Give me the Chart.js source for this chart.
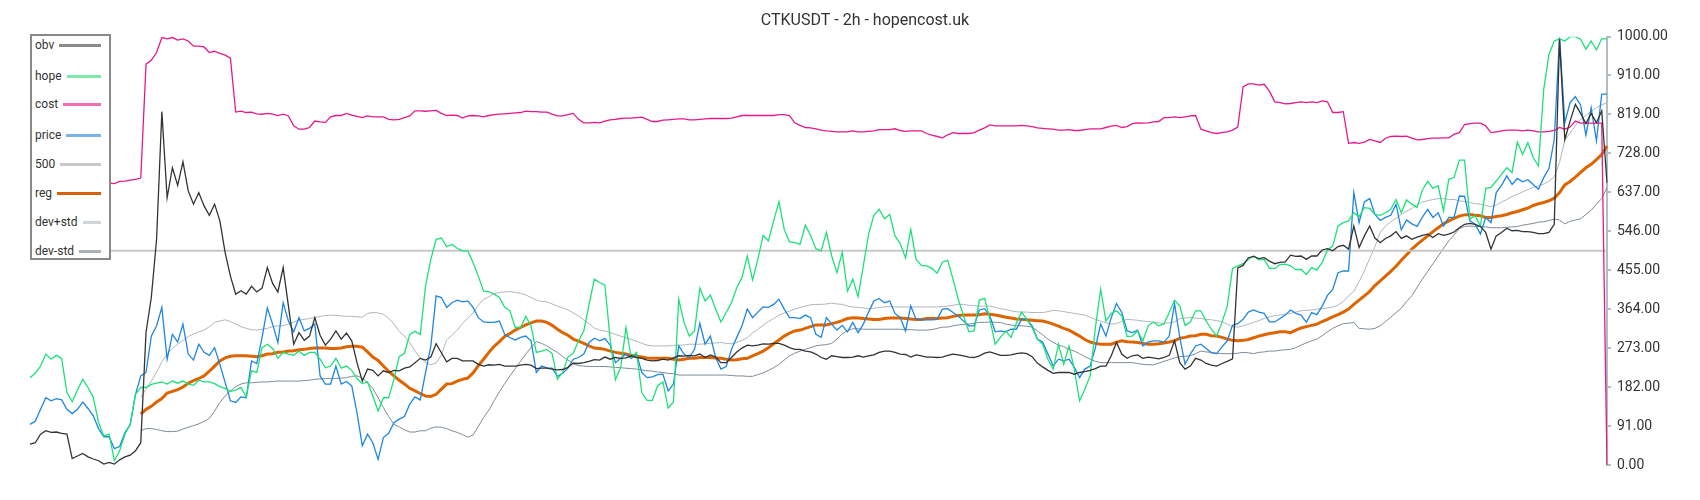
<!DOCTYPE html>
<html><head><meta charset="utf-8">
<script src="https://cdn.jsdelivr.net/npm/chart.js@4.4.1/dist/chart.umd.min.js"></script>
<style>
html,body{margin:0;padding:0;background:#fff;}
#wrap{position:relative;width:1700px;height:500px;}
#legend{position:absolute;left:30px;top:34px;width:77px;height:222px;border:2px solid #888;background:#fff;font-family:Roboto,sans-serif;font-size:12px;color:#333;}
.item{position:absolute;left:3px;right:8px;display:flex;align-items:center;height:16px;line-height:16px;white-space:nowrap;}
.item .sw{flex:1;height:3px;margin-left:5px;}
</style></head>
<body><div id="wrap"><canvas id="c" width="1700" height="500"></canvas><div id="legend"></div></div>
<script>
const yTicks = [0, 91, 182, 273, 364, 455, 546, 637, 728, 819, 910, 1000];
const seriesNames = ['obv','hope','cost','price','500','reg','dev+std','dev-std'];

const obv = [49,52,72,80,76,77,74,72,15,21,27,19,14,10,2,6,2,12,19,23,33,52,310,391,527,825,624,694,653,708,640,609,636,
605,583,609,570,496,441,399,407,399,417,404,413,461,424,404,461,371,282,309,291,301,344,303,280,294,313,294,308,290,239,196,224,221,208,220,216,221,220,
226,229,239,249,245,252,283,262,241,249,249,243,243,243,235,231,234,233,235,231,231,231,233,235,233,225,226,226,224,222,223,228,238,237,239,242,246,245,
252,247,251,249,250,255,251,249,245,243,244,247,245,250,255,254,256,255,259,251,257,252,239,239,251,264,273,280,278,280,283,282,284,284,280,274,270,270,
266,264,259,251,247,255,253,251,251,252,255,252,255,257,263,266,266,263,259,258,252,257,255,252,252,251,252,256,259,257,255,252,251,255,261,264,260,256,
256,257,260,262,260,253,238,229,221,214,216,216,216,212,216,218,221,225,231,231,255,286,259,249,255,257,249,252,250,248,251,256,290,239,224,231,249,245,
237,233,231,237,242,248,460,466,484,487,482,484,476,470,473,474,490,487,488,480,488,488,502,505,500,510,513,504,558,508,535,558,530,519,529,535,545,529,
535,527,532,536,539,531,540,536,539,544,554,562,564,562,557,543,504,535,543,553,547,548,545,545,543,540,540,543,562,994,760,803,842,821,797,821,799,827,659];

const hope = [204,214,231,259,247,256,249,169,148,175,200,181,158,99,68,72,10,33,72,95,165,181,181,188,191,194,189,196,191,196,189,186,198,
194,194,190,183,179,172,175,181,159,220,216,274,282,272,249,263,259,256,266,256,263,263,247,227,231,249,226,231,221,202,190,194,161,126,157,157,200,253,
261,305,312,305,418,480,527,530,510,515,506,500,500,473,441,406,405,399,391,368,360,321,321,347,325,263,266,270,260,200,216,252,261,290,313,375,434,426,
420,294,199,228,321,251,263,169,151,151,185,194,133,147,387,333,301,313,413,383,397,364,334,356,379,414,438,488,432,480,536,523,570,615,550,521,519,515,
560,536,505,500,543,488,449,497,406,434,393,465,539,583,597,575,585,535,517,483,550,480,466,465,459,448,474,478,434,387,348,311,313,385,389,340,282,298,
313,298,331,357,340,321,294,282,247,224,282,235,278,224,150,177,208,321,410,336,354,360,348,300,301,313,290,325,334,325,330,356,385,371,326,334,360,360,
336,317,301,333,371,459,465,470,480,488,479,480,459,459,468,469,465,456,457,445,461,455,473,502,511,558,566,570,589,580,601,599,585,583,589,597,620,589,
619,609,601,642,662,646,652,593,667,671,712,712,574,582,558,646,648,663,679,694,683,754,725,753,718,698,877,959,990,995,990,1000,1000,994,971,990,969,995,995];

const cost = [652,652,653,653,654,654,655,655,655,656,656,656,657,657,657,658,657,662,663,665,667,670,936,945,963,998,995,998,992,995,990,978,978,
976,963,966,961,957,950,824,826,823,824,820,819,821,819,816,819,815,792,784,784,788,803,801,800,813,816,816,821,817,814,811,815,813,813,813,807,806,807,
811,815,827,827,826,827,828,821,816,817,816,810,815,816,815,813,816,818,819,820,821,822,823,826,825,825,824,824,819,815,815,818,821,807,799,799,800,799,
803,806,807,809,810,810,811,812,807,802,802,805,806,807,808,808,806,806,807,808,809,809,809,809,810,813,816,816,816,816,816,816,816,818,818,816,799,793,
788,787,785,782,780,779,778,778,778,780,778,778,779,780,783,783,783,785,781,779,780,780,780,774,770,767,764,771,776,774,774,774,776,782,787,794,792,792,
792,792,792,793,792,790,787,786,785,784,782,782,783,781,781,783,785,785,785,788,791,793,788,790,797,799,798,799,801,802,811,811,813,811,813,815,816,784,
780,776,774,776,778,782,789,883,890,890,887,889,873,848,846,843,844,846,848,846,848,846,850,848,823,823,825,751,753,751,754,760,757,753,763,767,768,767,
768,763,759,760,762,763,763,764,764,772,776,795,797,798,798,792,776,778,780,782,782,782,780,782,780,778,778,779,781,788,784,789,803,798,798,798,798,798,0];

const price = [95,102,130,157,150,155,152,130,120,130,147,132,115,85,66,66,38,43,76,94,165,208,216,301,325,368,247,305,287,329,259,245,282,
263,256,274,235,193,150,146,159,157,243,237,298,367,329,286,379,336,311,344,313,319,329,208,189,189,231,189,195,185,122,45,72,52,13,64,74,99,107,
113,142,159,152,216,278,395,391,368,379,385,381,383,368,344,334,333,333,336,305,297,292,298,301,290,216,231,227,226,207,214,226,247,251,259,286,296,290,
295,280,239,249,259,249,259,216,204,206,211,212,173,189,278,259,251,270,331,282,301,251,224,230,270,298,325,364,344,357,369,368,375,387,364,344,344,342,
350,344,305,298,344,329,315,326,311,333,309,329,357,383,389,379,383,354,344,313,371,340,339,339,339,340,364,365,356,348,336,325,325,362,365,348,311,313,
311,317,317,340,340,325,294,287,259,231,247,243,247,228,204,224,231,274,329,301,344,377,356,313,309,315,278,287,290,290,287,301,377,298,235,259,278,282,
272,262,260,276,290,326,330,340,357,362,357,354,334,334,342,350,362,354,350,333,356,351,371,396,410,449,453,453,636,566,614,622,585,571,578,583,609,549,
572,563,557,579,597,578,589,558,578,578,628,627,570,562,539,578,566,636,653,675,655,669,661,666,655,644,671,692,760,998,799,846,860,840,770,834,757,866,866];

const line500 = [500,500,500,500,500,500,500,500,500,500,500,500,500,500,500,500,500,500,500,500,500,500,500,500,500,500,500,500,500,500,500,500,500,
500,500,500,500,500,500,500,500,500,500,500,500,500,500,500,500,500,500,500,500,500,500,500,500,500,500,500,500,500,500,500,500,500,500,500,500,500,500,
500,500,500,500,500,500,500,500,500,500,500,500,500,500,500,500,500,500,500,500,500,500,500,500,500,500,500,500,500,500,500,500,500,500,500,500,500,500,
500,500,500,500,500,500,500,500,500,500,500,500,500,500,500,500,500,500,500,500,500,500,500,500,500,500,500,500,500,500,500,500,500,500,500,500,500,500,
500,500,500,500,500,500,500,500,500,500,500,500,500,500,500,500,500,500,500,500,500,500,500,500,500,500,500,500,500,500,500,500,500,500,500,500,500,500,
500,500,500,500,500,500,500,500,500,500,500,500,500,500,500,500,500,500,500,500,500,500,500,500,500,500,500,500,500,500,500,500,500,500,500,500,500,500,
500,500,500,500,500,500,500,500,500,500,500,500,500,500,500,500,500,500,500,500,500,500,500,500,500,500,500,500,500,500,500,500,500,500,500,500,500,500,
500,500,500,500,500,500,500,500,500,500,500,500,500,500,500,500,500,500,500,500,500,500,500,500,500,500,500,500,500,500,500,500,500,500,500,500,500,500,500];

const reg = [null,null,null,null,null,null,null,null,null,null,null,null,null,null,null,null,null,null,null,null,null,
119,130,137,147,155,168,172,176,182,191,197,202,
208,219,231,243,250,254,255,255,255,254,253,255,259,260,263,264,266,267,269,270,272,273,273,273,272,272,273,276,277,277,275,264,252,244,231,219,208,198,
189,179,173,167,161,160,165,177,189,190,196,200,203,215,232,247,263,277,288,300,307,315,321,327,332,336,336,333,326,317,309,303,294,289,284,278,273,272,
270,266,263,261,259,256,254,252,250,249,249,249,249,247,245,247,249,249,251,251,251,250,249,247,245,246,248,249,255,260,266,274,283,292,301,308,313,315,
319,323,327,327,327,330,333,337,342,344,343,342,341,340,340,342,343,343,343,342,341,340,340,342,342,342,343,344,347,349,350,350,350,351,353,352,350,348,
345,343,341,340,339,338,337,336,333,329,324,319,315,308,301,293,287,284,282,282,282,287,290,288,287,286,284,282,282,283,285,287,290,296,298,301,302,305,
305,302,301,298,294,291,290,291,293,297,301,304,307,309,311,311,309,315,320,323,326,329,335,340,346,351,357,364,375,385,395,405,419,430,441,452,464,478,
491,504,515,525,535,545,554,563,570,576,581,584,585,583,582,578,578,580,582,585,589,592,596,600,606,610,613,617,623,636,654,662,672,683,694,702,713,725,745];

const devPlus = [null,null,null,null,null,null,null,null,null,null,null,null,null,null,null,null,null,null,null,null,null,
158,177,196,217,241,259,272,282,291,300,306,311,
315,323,333,336,339,335,329,323,319,316,315,317,319,323,325,325,329,334,338,340,342,344,347,349,350,349,348,347,347,346,345,354,356,355,352,343,329,312,
301,286,266,250,239,234,238,257,292,303,315,330,343,355,373,387,393,400,403,404,405,403,401,397,391,385,382,381,376,371,367,362,355,348,339,330,320,315,
313,309,305,301,297,293,289,284,280,278,278,278,278,279,280,280,282,282,282,283,284,285,286,284,283,286,291,297,308,317,326,335,342,350,355,359,364,368,
371,374,375,375,376,378,376,375,371,369,368,367,365,366,368,369,370,369,369,369,369,369,369,369,369,369,370,371,373,375,375,373,372,371,371,371,368,365,
363,360,358,357,357,356,356,356,358,361,360,358,356,354,352,350,345,340,336,332,329,330,336,340,339,338,336,335,333,332,331,332,334,342,343,344,343,342,
340,339,337,335,329,323,322,325,329,333,337,342,346,349,350,352,354,357,360,361,362,364,365,367,369,373,382,395,406,428,453,482,510,543,558,568,576,585,
593,599,608,614,617,620,622,622,620,620,617,615,613,610,609,606,603,607,614,620,627,632,638,643,648,652,656,662,673,706,758,775,792,807,816,826,834,841,846];

const devMinus = [null,null,null,null,null,null,null,null,null,null,null,null,null,null,null,null,null,null,null,null,null,
80,85,85,83,80,78,78,79,84,88,92,96,
102,109,126,146,161,173,183,189,192,192,193,194,194,195,196,196,196,196,196,197,198,200,201,202,202,202,203,204,207,208,203,192,179,157,134,113,95,89,
82,77,77,80,80,86,89,88,85,80,76,71,65,70,90,111,128,150,171,190,208,225,242,259,274,288,284,278,270,263,253,245,236,232,231,230,230,230,
230,229,228,227,226,225,224,222,220,219,217,216,214,213,210,210,210,210,210,210,210,210,210,210,209,208,208,207,207,211,215,221,227,235,245,255,261,266,
270,274,278,280,281,284,294,306,314,318,318,317,317,317,317,317,317,317,317,316,316,315,315,315,316,319,322,322,325,327,328,329,331,333,333,334,333,333,
329,327,325,325,324,322,313,304,294,286,280,276,270,266,260,253,247,242,239,239,239,239,239,239,239,237,235,234,234,238,242,246,250,253,254,255,260,266,
264,263,261,260,260,260,261,263,262,260,263,264,266,266,268,269,270,274,280,285,290,294,302,311,319,325,330,331,333,319,318,317,319,325,335,345,356,366,
382,395,415,434,452,470,488,506,523,537,552,557,558,557,557,556,554,554,554,555,556,557,560,562,564,567,568,571,574,572,563,569,572,575,585,595,609,622,648];

const labels = obv.map((_, i) => '');

const lineColors = ['#333333','#1ee07a','#e5198a','#1e86e0','#c8c8c8','#de6400','#aeb6be','#7f8b96'];
const swatchColors = ['#8a8a8a','#7fe8aa','#ef6fb2','#78b3ea','#c8c8c8','#d9600c','#d1d6db','#a8b2ba'];
const widths = [1.3,1.3,1.3,1.3,2,3,1,1];
const values = [obv, hope, cost, price, line500, reg, devPlus, devMinus];

const datasets = seriesNames.map((n, k) => ({
  label: n, data: values[k], borderColor: lineColors[k], backgroundColor: lineColors[k],
  borderWidth: widths[k], pointRadius: 0, tension: 0, fill: false, spanGaps: false
}));

// HTML legend
const legendCenters = [9, 40, 68, 99, 128, 157, 186, 215];
const lg = document.getElementById('legend');
seriesNames.forEach((n, k) => {
  const it = document.createElement('div');
  it.className = 'item';
  it.style.top = (legendCenters[k] - 8) + 'px';
  const t = document.createElement('span'); t.textContent = n;
  const s = document.createElement('span'); s.className = 'sw'; s.style.background = swatchColors[k];
  it.appendChild(t); it.appendChild(s); lg.appendChild(it);
});

new Chart(document.getElementById('c'), {
  type: 'line',
  data: { labels: labels, datasets: datasets },
  options: {
    responsive: false, animation: false,
    layout: { padding: { left: 30, right: 0, top: 0, bottom: 35 } },
    plugins: {
      legend: { display: false },
      tooltip: { enabled: false },
      title: { display: true, text: 'CTKUSDT - 2h - hopencost.uk', color: '#333',
        font: { family: 'Roboto', size: 16, weight: 'normal' }, padding: { top: 11, bottom: 6.5 } }
    },
    scales: {
      x: { display: false },
      y: {
        position: 'right', min: 0, max: 1000,
        afterBuildTicks: s => { s.ticks = yTicks.map(v => ({ value: v })); },
        afterFit: s => { s.width = 93; },
        ticks: { callback: v => Number(v).toFixed(2), color: '#333', font: { family: 'Roboto', size: 14 }, padding: 6 },
        grid: { drawOnChartArea: false, drawTicks: true, tickLength: 4, color: '#b4bcc4', lineWidth: 2 },
        border: { color: '#b4bcc4', width: 2 }
      }
    }
  }
});
</script>
</body></html>
